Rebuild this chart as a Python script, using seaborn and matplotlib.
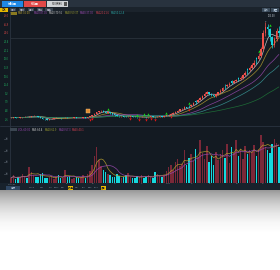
import numpy as np
import pandas as pd
import matplotlib
matplotlib.use("Agg")
import matplotlib.pyplot as plt
import seaborn as sns
from matplotlib.patches import Rectangle

# ---------------- data ----------------
opens = [7.2, 7.5, 7.8, 7.3, 7.0, 7.6, 8.0, 8.3, 8.0, 8.4, 8.9, 9.2, 8.8, 8.2, 7.4, 6.2, 5.6, 5.2, 5.8, 6.4,
         6.9, 7.3, 7.0, 6.8, 7.2, 7.5, 7.1, 6.9, 7.3, 7.6, 7.4, 7.0, 7.3, 7.6, 7.4, 7.9, 8.6, 9.8, 11.2, 12.6,
         13.8, 14.2, 13.5, 12.4, 12.9, 11.8, 10.6, 9.8, 9.0, 8.6, 8.9, 8.4, 8.1, 8.5, 8.8, 8.4, 8.0, 7.6, 7.9, 8.3,
         8.0, 7.7, 8.1, 8.6, 8.2, 7.8, 8.3, 8.9, 8.5, 8.8, 9.6, 10.4, 11.2, 12.0, 13.0, 14.4, 15.6, 16.4, 17.8, 19.5,
         18.6, 20.4, 24.5, 23.5, 25.2, 26.8, 29.0, 31.5, 32.8, 31.0, 29.6, 29.0, 30.8, 32.6, 34.5, 39.5, 38.6, 40.2, 43.6, 42.4,
         43.8, 46.8, 45.8, 47.2, 49.6, 55.8, 54.8, 57.5, 59.6, 67.0, 66.0, 69.5, 76.0, 92.0, 98.0, 96.0, 88.0, 80.0, 86.0, 94.0]
closes = [7.5, 7.8, 7.3, 7.0, 7.6, 8.0, 8.3, 8.0, 8.4, 8.9, 9.2, 8.8, 8.2, 7.4, 6.2, 5.6, 5.2, 5.8, 6.4, 6.9,
          7.3, 7.0, 6.8, 7.2, 7.5, 7.1, 6.9, 7.3, 7.6, 7.4, 7.0, 7.3, 7.6, 7.4, 7.9, 8.6, 9.8, 11.2, 12.6, 13.8,
          14.2, 13.5, 12.4, 12.9, 11.8, 10.6, 9.8, 9.0, 8.6, 8.9, 8.4, 8.1, 8.5, 8.8, 8.4, 8.0, 7.6, 7.9, 8.3, 8.0,
          7.7, 8.1, 8.6, 8.2, 7.8, 8.3, 8.9, 8.5, 8.8, 9.6, 10.4, 11.2, 12.0, 13.0, 14.4, 15.6, 16.4, 17.8, 17.2, 18.6,
          20.4, 22.0, 23.5, 25.2, 26.8, 29.0, 31.5, 32.8, 31.0, 29.6, 29.0, 30.8, 32.6, 34.5, 36.8, 38.6, 40.2, 41.5, 42.4, 43.8,
          44.6, 45.8, 47.2, 49.6, 52.0, 54.8, 57.5, 59.6, 62.5, 66.0, 69.5, 76.0, 92.0, 98.0, 96.0, 88.0, 80.0, 86.0, 94.0, 92.0]
highs = [7.9, 8.1, 7.9, 7.5, 7.8, 8.3, 8.6, 8.5, 8.7, 9.3, 9.6, 9.4, 9.0, 8.4, 7.5, 6.5, 5.9, 6.1, 6.6, 7.1,
         7.6, 7.5, 7.2, 7.4, 7.8, 7.6, 7.3, 7.5, 7.9, 7.8, 7.5, 7.5, 7.8, 7.8, 8.2, 8.9, 10.2, 11.6, 13.1, 14.5,
         15.0, 14.6, 13.8, 13.4, 13.1, 12.0, 10.9, 10.1, 9.3, 9.2, 9.1, 8.6, 8.8, 9.1, 9.0, 8.6, 8.2, 8.1, 8.6, 8.5,
         8.2, 8.4, 8.9, 8.8, 8.4, 8.6, 9.2, 9.1, 9.2, 10.0, 10.9, 11.8, 12.6, 13.7, 15.0, 16.4, 17.3, 18.6, 18.5, 20.2,
         21.2, 22.9, 25.3, 26.3, 27.9, 30.2, 32.8, 34.0, 33.5, 31.8, 30.4, 31.6, 33.5, 35.6, 37.9, 40.6, 41.5, 42.8, 44.6, 45.2,
         46.0, 47.8, 48.8, 51.0, 53.8, 57.0, 59.4, 61.8, 64.7, 68.4, 72.0, 78.5, 95.0, 103.0, 101.0, 97.5, 89.0, 88.0, 97.0, 99.0]
lows = [7.0, 7.3, 7.1, 6.8, 6.9, 7.4, 7.8, 7.8, 7.9, 8.2, 8.7, 8.6, 8.0, 7.2, 6.0, 5.3, 4.8, 5.0, 5.6, 6.2,
        6.7, 6.8, 6.5, 6.6, 7.0, 6.9, 6.7, 6.8, 7.1, 7.2, 6.8, 6.9, 7.1, 7.2, 7.3, 7.7, 8.4, 9.6, 11.0, 12.3,
        13.4, 13.2, 12.1, 12.0, 11.5, 10.3, 9.5, 8.7, 8.3, 8.4, 8.1, 7.8, 7.9, 8.3, 8.2, 7.8, 7.3, 7.4, 7.7, 7.8,
        7.4, 7.5, 7.9, 8.0, 7.5, 7.6, 8.1, 8.2, 8.3, 8.6, 9.3, 10.1, 10.9, 11.7, 12.8, 14.0, 15.1, 16.0, 16.6, 16.9,
        18.2, 19.8, 21.5, 23.0, 24.6, 26.2, 28.4, 30.6, 30.2, 28.8, 28.1, 28.5, 30.1, 32.0, 33.9, 36.0, 37.8, 39.5, 40.6, 41.7,
        42.9, 43.8, 45.0, 46.5, 48.8, 51.2, 53.9, 56.4, 58.5, 61.4, 64.8, 68.2, 74.5, 89.0, 90.0, 84.0, 77.0, 78.0, 84.5, 88.0]
volumes = [8, 12, 6, 10, 9, 14, 11, 7, 26, 18, 12, 9, 10, 14, 16, 8, 7, 9, 11, 6,
           10, 13, 8, 7, 22, 9, 11, 6, 8, 10, 7, 9, 12, 8, 14, 20, 30, 45, 60, 38,
           28, 22, 18, 15, 12, 10, 9, 14, 11, 8, 9, 12, 16, 10, 8, 7, 11, 9, 13, 8,
           10, 12, 9, 8, 18, 14, 11, 9, 12, 20, 26, 30, 22, 35, 40, 28, 32, 55, 30, 42,
           48, 36, 58, 44, 72, 50, 40, 62, 35, 45, 30, 52, 38, 48, 56, 42, 66, 34, 60, 50,
           73, 45, 58, 40, 62, 48, 55, 52, 64, 46, 58, 82, 70, 60, 55, 50, 65, 75, 68, 60]
buy_signals = [43, 56, 59, 61, 69, 79, 110, 115]
sell_signals = [35, 36, 53, 57, 60, 62, 64, 71, 79]
event_marks = [34]
ref_price = 87.0
ma_windows = [5, 10, 20, 30, 60]
ma_colors = ["#d8d8d8", "#b8a030", "#9a4ab0", "#3a9a9a", "#1f7a3a"]
vol_ma_windows = [5, 10]
vol_ma_colors = ["#b8a030", "#9a4ab0"]
price_ticks = [6, 14.6, 23.2, 31.8, 40.4, 49, 57.6, 66.2, 74.8, 83.4, 92, 100.6, 109.2]
price_tick_labels = ["2.6", "4.8", "7.0", "9.2", "11.4", "13.6", "15.8", "18.0", "20.2", "22.4", "24.6", "26.8", "29.0"]
vol_ticks = [15, 35, 55, 75]
vol_tick_labels = ["20万", "40万", "60万", "80万"]
date_pos = [0.5, 12, 25, 36.5, 46, 58, 70, 80.5, 88.5, 100.5, 112]
date_labels = ["2017/06", "07", "08", "09", "10", "11", "2018", "02", "03", "04", "05"]
buttons = ["分时图", "K线图", "F10资料"]
menu_items = ["日线", "周线", "月线", "分钟", "更多"]
legend_top = ["MA5:92.00", "MA10:87.05", "MA20:70.56", "MA30:59.37", "MA60:37.90", "MA120:21.6", "MA250:12.4"]
legend_top_colors = ["#b8a030", "#9a4ab0", "#c8c8c8", "#a0a030", "#9a4ab0", "#d04050", "#2aa0a0"]
legend_vol = ["VOL:60.00", "MA5:64.4", "MA10:61.9", "MA20:57.3", "MA60:40.1"]
legend_vol_colors = ["#9a4ab0", "#c8c8c8", "#a0a030", "#9a4ab0", "#d04050"]
tabs = ["指标", "MACD", "KDJ", "RSI", "BOLL", "DMI", "成交量", "WR", "CCI", "OBV", "BIAS", "设置"]

# ---------------- style ----------------
sns.set_style("dark")
plt.rcParams["font.family"] = ["Noto Sans CJK SC", "DejaVu Sans"]

W, H = 280, 270
fig = plt.figure(figsize=(2.8, 2.7), dpi=100)
fig.patch.set_facecolor("white")

def ax_px(x0, y0, x1, y1, **kw):
    return fig.add_axes([x0 / W, 1 - y1 / H, (x1 - x0) / W, (y1 - y0) / H], **kw)

bg = ax_px(0, 0, W, H)
bg.set_xlim(0, W)
bg.set_ylim(H, 0)
bg.axis("off")

def rect(x0, y0, x1, y1, c, z=1):
    bg.add_patch(Rectangle((x0, y0), x1 - x0, y1 - y0, color=c, lw=0, zorder=z))

# reflection gradient
grad_y = np.array([190, 193, 198, 205, 213, 222, 232, 270])
grad_v = np.array([0.60, 0.66, 0.74, 0.83, 0.91, 0.97, 1.0, 1.0])
yy = np.arange(190, 270)
col = np.interp(yy, grad_y, grad_v)
img = np.repeat(col[:, None], 10, axis=1)
bg.imshow(np.dstack([img, img, img]), extent=(0, W, 270, 190), aspect="auto", zorder=0)

# main dark panel
rect(0, 0, W, 190, "#131a22")
rect(0, 0, W, 7, "#28323e", 2)
btn_cols = ["#1e88e5", "#e04848", "#cfd2d6"]
btn_x = [(2, 23), (24, 46), (47, 68)]
for (x0, x1), c, t in zip(btn_x, btn_cols, buttons):
    rect(x0, 1, x1, 6.5, c, 3)
    bg.text((x0 + x1) / 2, 3.9, t, fontsize=2.2, color="white" if c != "#cfd2d6" else "#333", ha="center", va="center", zorder=4)
rect(64, 2, 67, 5.5, "#555", 4)
rect(0, 7, W, 12, "#1b232c", 2)
rect(0, 7.5, 8, 11.5, "#e8b800", 3)
bg.text(4, 9.6, "日K", fontsize=2, color="#222", ha="center", va="center", zorder=4)
for (x0, x1), t in zip([(10, 16), (19, 25), (28, 34), (37, 43), (45, 53)], menu_items):
    rect(x0, 8, x1, 11, "#36424e", 3)
    bg.text((x0 + x1) / 2, 9.6, t, fontsize=1.8, color="#aab", ha="center", va="center", zorder=4)
rect(262, 7.5, 270, 11.5, "#3a4a5a", 3)
rect(271, 7.5, 279, 11.5, "#3a4a5a", 3)
bg.text(266, 9.6, "复权", fontsize=1.8, color="#bcd", ha="center", va="center", zorder=4)
bg.text(275, 9.6, "设置", fontsize=1.8, color="#bcd", ha="center", va="center", zorder=4)

# top legend
lx = 10
rect(lx, 12, lx + 7, 14.8, "#8a7a20", 3)
lx = 18
for t, c in zip(legend_top, legend_top_colors):
    bg.text(lx, 13.5, t, fontsize=1.9, color=c, va="center", zorder=4)
    lx += 15.5
# separators
bg.plot([0, W], [126, 126], color="#2a3440", lw=0.6, zorder=3)
bg.plot([10, 10], [12, 183], color="#2a3440", lw=0.6, zorder=3)
# bottom bar
rect(0, 183, W, 190, "#18222c", 2)
rect(6, 186, 20, 190, "#2e4560", 3)
bg.text(13, 188, tabs[0], fontsize=1.8, color="#cde", ha="center", va="center", zorder=4)
tab_x = [25, 32, 42, 50, 57, 63, 70, 77, 84, 90, 96, 103]
for i, (tx, t) in enumerate(zip(tab_x[1:], tabs[1:])):
    if i in (5, 10):
        rect(tx - 2.5, 186, tx + 2.5, 190, "#e8b800", 3)
        bg.text(tx, 188, t, fontsize=1.6, color="#222", ha="center", va="center", zorder=4)
    else:
        bg.text(tx, 188, t, fontsize=1.6, color="#8899aa", ha="center", va="center", zorder=4)
# volume legend
rect(10, 128.3, 17, 131, "#3a4550", 3)
lx = 18
for t, c in zip(legend_vol, legend_vol_colors):
    bg.text(lx, 129.7, t, fontsize=1.9, color=c, va="center", zorder=4)
    lx += 13.5

# ---------------- price chart ----------------
df = pd.DataFrame({"open": opens, "close": closes, "high": highs, "low": lows, "vol": volumes})
df["i"] = np.arange(len(df))
up = df["close"] >= df["open"]
UP, DN = "#f0504a", "#19d3da"
df["color"] = np.where(up, UP, DN)
df["vcolor"] = np.where(up, "#7a2838", "#15d8de")

ax = ax_px(10, 15, 280, 125)
ax.set_facecolor((0, 0, 0, 0))
ax.set_xlim(-0.5, len(df) - 0.5)
ax.set_ylim(0, 110)
ax.axhline(ref_price, color="#2a323c", lw=0.6, zorder=0)
ax.vlines(df["i"], df["low"], df["high"], colors=df["color"], lw=0.5, zorder=3)
ax.bar(df["i"], (df["close"] - df["open"]).abs().clip(lower=0.3), bottom=df[["open", "close"]].min(axis=1),
       width=0.75, color=df["color"], lw=0, zorder=4)
for w, c in zip(ma_windows, ma_colors):
    ma = df["close"].rolling(w, min_periods=1).mean()
    sns.lineplot(x=df["i"], y=ma, ax=ax, color=c, lw=0.5, alpha=0.85, zorder=2)
b = df.loc[buy_signals]
ax.scatter(b["i"], b["high"] + 2.2, marker="^", s=3, color="#18d818", lw=0, zorder=5)
s = df.loc[sell_signals]
ax.scatter(s["i"], s["low"] - 2.2, marker="v", s=3, color="#e81818", lw=0, zorder=5)
e = df.loc[event_marks]
ax.scatter(e["i"], e["high"] + 6, marker="s", s=5, color="#e08a30", edgecolor="#f0c080", lw=0.3, zorder=5)
imax = int(df["high"].idxmax())
ax.annotate(f"{df['high'].max():.2f}", xy=(imax, df["high"].max()), xytext=(imax + 1, 108),
            fontsize=1.8, color="#c0c8d0", annotation_clip=False,
            arrowprops=dict(arrowstyle="-", color="#c0c8d0", lw=0.3))
ax.set_yticks(price_ticks)
ax.set_yticklabels(price_tick_labels)
for lab, v in zip(ax.get_yticklabels(), price_ticks):
    lab.set_color("#e04848" if v > 90 else "#20b060")
ax.tick_params(axis="y", labelsize=1.8, length=0, pad=1)
ax.set_xticks([])
ax.set_xlabel("")
ax.set_ylabel("")
for sp in ax.spines.values():
    sp.set_visible(False)
ax.grid(False)

# ---------------- volume chart ----------------
vx = ax_px(10, 131, 280, 182.5)
vx.set_facecolor((0, 0, 0, 0))
vx.set_xlim(-0.5, len(df) - 0.5)
vx.set_ylim(0, 88)
vx.bar(df["i"], df["vol"], width=0.75, color=df["vcolor"], lw=0, zorder=3)
for w, c in zip(vol_ma_windows, vol_ma_colors):
    vma = df["vol"].rolling(w, min_periods=1).mean()
    sns.lineplot(x=df["i"], y=vma, ax=vx, color=c, lw=0.5, alpha=0.9, zorder=4)
vx.set_yticks(vol_ticks)
vx.set_yticklabels(vol_tick_labels)
vx.tick_params(axis="y", labelsize=1.6, length=0, pad=1, labelcolor="#6a7480")
vx.set_xticks(date_pos)
vx.set_xticklabels(date_labels)
vx.tick_params(axis="x", labelsize=1.6, length=0, pad=0.5, labelcolor="#7a8490")
vx.set_xlabel("")
vx.set_ylabel("")
for sp in vx.spines.values():
    sp.set_visible(False)
vx.grid(False)

fig.savefig("out.png", dpi=100, facecolor="white")
